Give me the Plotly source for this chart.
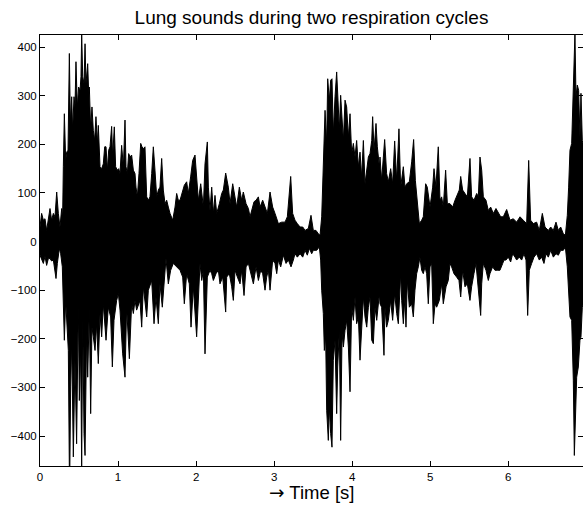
import plotly.graph_objects as go

# Upper envelope of the lung-sound waveform (time in s, amplitude)
t_upper = [0.0, 0.021, 0.043, 0.064, 0.085, 0.107, 0.128, 0.149, 0.171, 0.192, 0.214, 0.235, 0.256, 0.278, 0.290,
           0.299, 0.312, 0.329, 0.342, 0.359, 0.376, 0.389, 0.406, 0.418, 0.436, 0.448, 0.461, 0.478, 0.495, 0.513,
           0.525, 0.534, 0.547, 0.564, 0.577, 0.589, 0.611, 0.624, 0.632, 0.649, 0.666, 0.683, 0.700, 0.717, 0.735,
           0.747, 0.769, 0.790, 0.811, 0.829, 0.846, 0.863, 0.880, 0.897, 0.918, 0.931, 0.952, 0.969, 0.991, 1.008,
           1.025, 1.046, 1.068, 1.089, 1.102, 1.119, 1.136, 1.153, 1.174, 1.196, 1.217, 1.230, 1.247, 1.268, 1.290,
           1.307, 1.324, 1.345, 1.367, 1.388, 1.409, 1.431, 1.452, 1.473, 1.495, 1.516, 1.537, 1.559, 1.580, 1.602,
           1.623, 1.644, 1.666, 1.700, 1.730, 1.751, 1.772, 1.794, 1.815, 1.849, 1.879, 1.900, 1.930, 1.956, 1.986,
           2.007, 2.029, 2.059, 2.093, 2.114, 2.144, 2.157, 2.178, 2.200, 2.221, 2.242, 2.264, 2.298, 2.328, 2.349,
           2.379, 2.413, 2.435, 2.469, 2.499, 2.520, 2.554, 2.584, 2.605, 2.640, 2.670, 2.691, 2.742, 2.768, 2.798,
           2.819, 2.853, 2.883, 2.913, 2.947, 2.981, 3.011, 3.054, 3.097, 3.139, 3.169, 3.212, 3.237, 3.267, 3.297,
           3.332, 3.366, 3.396, 3.438, 3.472, 3.502, 3.536, 3.566, 3.588, 3.609, 3.630, 3.652, 3.673, 3.686, 3.707,
           3.724, 3.741, 3.758, 3.780, 3.801, 3.818, 3.835, 3.852, 3.870, 3.887, 3.908, 3.929, 3.951, 3.972, 3.993,
           4.015, 4.036, 4.057, 4.079, 4.100, 4.121, 4.143, 4.164, 4.186, 4.207, 4.228, 4.250, 4.262, 4.280, 4.305,
           4.322, 4.348, 4.356, 4.377, 4.416, 4.441, 4.463, 4.493, 4.518, 4.544, 4.570, 4.599, 4.621, 4.655, 4.676,
           4.698, 4.732, 4.762, 4.787, 4.809, 4.834, 4.860, 4.890, 4.911, 4.941, 4.962, 4.997, 5.031, 5.048, 5.073,
           5.103, 5.125, 5.146, 5.167, 5.197, 5.219, 5.253, 5.287, 5.317, 5.347, 5.372, 5.390, 5.415, 5.445, 5.475,
           5.509, 5.530, 5.560, 5.595, 5.616, 5.637, 5.659, 5.680, 5.714, 5.744, 5.774, 5.808, 5.842, 5.872, 5.902,
           5.936, 5.979, 6.022, 6.064, 6.107, 6.150, 6.192, 6.235, 6.261, 6.286, 6.320, 6.363, 6.397, 6.436, 6.470,
           6.513, 6.543, 6.577, 6.611, 6.641, 6.671, 6.705, 6.731, 6.756, 6.773, 6.790, 6.812, 6.833, 6.854, 6.867,
           6.884, 6.901, 6.918, 6.931, 6.948, 6.960]
v_upper = [30, 58, 44, 47, 23, 44, 68, 44, 58, 51, 102, 58, 30, 68, 51,
           154, 263, 167, 184, 188, 387, 246, 298, 229, 298, 277, 370, 277, 318, 311,
           339, 430, 339, 325, 407, 325, 366, 304, 318, 232, 277, 229, 208, 257, 202,
           239, 154, 150, 160, 195, 195, 147, 188, 195, 237, 174, 236, 154, 147, 150,
           140, 198, 154, 250, 154, 140, 181, 174, 178, 147, 140, 112, 92, 140, 202,
           195, 191, 195, 92, 85, 92, 140, 195, 147, 92, 106, 112, 171, 106, 78,
           85, 71, 58, 44, 71, 99, 85, 85, 99, 116, 123, 99, 133, 167, 178,
           126, 85, 119, 71, 160, 205, 112, 64, 112, 58, 95, 58, 78, 99, 106,
           141, 112, 78, 119, 92, 71, 112, 85, 102, 78, 68, 51, 82, 85, 92,
           71, 85, 71, 58, 102, 71, 58, 37, 40, 40, 51, 134, 58, 44, 37,
           30, 30, 23, 27, 54, 23, 23, 16, 13, 51, 160, 270, 202, 335, 291,
           332, 335, 222, 298, 349, 291, 229, 301, 236, 208, 291, 277, 215, 263, 181,
           202, 174, 208, 154, 184, 133, 208, 119, 154, 174, 181, 208, 257, 188, 243,
           195, 154, 174, 126, 210, 140, 123, 150, 119, 207, 126, 232, 112, 154, 112,
           119, 123, 164, 210, 126, 85, 37, 44, 51, 119, 112, 71, 112, 150, 112,
           195, 85, 92, 71, 147, 78, 78, 71, 85, 99, 106, 134, 106, 99, 92,
           171, 92, 85, 99, 92, 174, 147, 92, 85, 64, 71, 58, 68, 58, 51,
           51, 66, 44, 47, 40, 51, 44, 37, 167, 44, 37, 40, 23, 58, 30,
           23, 30, 23, 40, 23, 30, 16, 13, 54, 112, 188, 202, 315, 430, 298,
           322, 311, 215, 305, 208, 200]

# Lower envelope of the waveform
t_lower = [0.0, 0.021, 0.043, 0.064, 0.085, 0.107, 0.128, 0.149, 0.171, 0.205, 0.222, 0.248, 0.265, 0.286, 0.299,
           0.312, 0.329, 0.342, 0.363, 0.376, 0.382, 0.393, 0.406, 0.427, 0.448, 0.469, 0.491, 0.504, 0.521, 0.534,
           0.547, 0.564, 0.577, 0.598, 0.611, 0.632, 0.649, 0.666, 0.683, 0.705, 0.726, 0.747, 0.769, 0.790, 0.811,
           0.846, 0.875, 0.905, 0.927, 0.948, 0.982, 1.004, 1.025, 1.059, 1.089, 1.110, 1.145, 1.174, 1.196, 1.217,
           1.238, 1.281, 1.303, 1.324, 1.367, 1.388, 1.431, 1.461, 1.486, 1.516, 1.537, 1.567, 1.602, 1.614, 1.644,
           1.674, 1.708, 1.751, 1.794, 1.828, 1.849, 1.879, 1.913, 1.935, 1.964, 2.007, 2.029, 2.050, 2.072, 2.093,
           2.114, 2.127, 2.144, 2.178, 2.200, 2.221, 2.255, 2.285, 2.306, 2.341, 2.379, 2.392, 2.426, 2.456, 2.477,
           2.499, 2.529, 2.563, 2.584, 2.614, 2.640, 2.670, 2.700, 2.734, 2.768, 2.798, 2.828, 2.853, 2.883, 2.904,
           2.926, 2.947, 2.981, 3.011, 3.033, 3.054, 3.084, 3.118, 3.152, 3.182, 3.216, 3.246, 3.267, 3.297, 3.332,
           3.366, 3.396, 3.425, 3.451, 3.481, 3.502, 3.545, 3.579, 3.596, 3.609, 3.630, 3.643, 3.660, 3.673, 3.694,
           3.707, 3.724, 3.741, 3.758, 3.780, 3.801, 3.814, 3.835, 3.852, 3.870, 3.887, 3.908, 3.929, 3.951, 3.972,
           3.993, 4.015, 4.036, 4.057, 4.079, 4.100, 4.121, 4.143, 4.164, 4.186, 4.207, 4.228, 4.250, 4.271, 4.292,
           4.314, 4.348, 4.356, 4.377, 4.407, 4.420, 4.441, 4.463, 4.493, 4.518, 4.544, 4.570, 4.591, 4.621, 4.634,
           4.655, 4.676, 4.689, 4.706, 4.732, 4.762, 4.783, 4.804, 4.826, 4.847, 4.868, 4.890, 4.911, 4.933, 4.954,
           4.975, 4.997, 5.018, 5.039, 5.061, 5.082, 5.116, 5.146, 5.167, 5.202, 5.231, 5.253, 5.274, 5.304, 5.338,
           5.368, 5.390, 5.415, 5.445, 5.475, 5.509, 5.530, 5.560, 5.586, 5.616, 5.646, 5.659, 5.680, 5.714, 5.744,
           5.765, 5.799, 5.829, 5.859, 5.893, 5.928, 5.945, 5.970, 6.000, 6.030, 6.056, 6.086, 6.107, 6.141, 6.171,
           6.201, 6.227, 6.248, 6.269, 6.299, 6.329, 6.363, 6.397, 6.427, 6.457, 6.483, 6.513, 6.543, 6.577, 6.611,
           6.641, 6.671, 6.705, 6.731, 6.756, 6.773, 6.790, 6.812, 6.833, 6.846, 6.863, 6.876, 6.897, 6.918, 6.931,
           6.948, 6.960]
v_lower = [-28, -35, -45, -30, -49, -35, -35, -40, -38, -76, -45, -14, -25, -52, -141,
           -203, -121, -162, -224, -470, -470, -299, -203, -443, -244, -416, -128, -327, -217, -470,
           -155, -395, -440, -183, -279, -135, -354, -176, -196, -224, -169, -251, -148, -196, -128,
           -203, -135, -155, -258, -162, -121, -107, -141, -231, -279, -135, -241, -128, -148, -121,
           -141, -121, -176, -93, -155, -100, -80, -169, -114, -169, -87, -135, -66, -35, -87,
           -59, -45, -52, -59, -73, -128, -66, -87, -176, -93, -196, -107, -45, -80, -59,
           -231, -162, -73, -59, -66, -80, -66, -59, -87, -73, -145, -73, -66, -93, -121,
           -59, -73, -87, -59, -111, -52, -45, -66, -87, -52, -80, -59, -66, -100, -73,
           -59, -100, -38, -45, -66, -38, -52, -28, -45, -38, -52, -38, -25, -32, -25,
           -32, -18, -28, -14, -25, -18, -18, -11, -38, -100, -148, -224, -196, -347, -409,
           -340, -395, -423, -244, -203, -354, -258, -183, -409, -189, -217, -183, -162, -217, -309,
           -135, -162, -114, -169, -155, -244, -189, -114, -155, -176, -135, -114, -203, -210, -135,
           -162, -107, -128, -135, -234, -135, -176, -162, -121, -162, -107, -148, -169, -66, -121,
           -169, -114, -176, -80, -135, -128, -155, -100, -66, -52, -32, -59, -66, -52, -66,
           -128, -52, -45, -169, -128, -135, -121, -87, -128, -93, -80, -45, -52, -66, -73,
           -80, -114, -59, -93, -87, -121, -93, -66, -45, -93, -152, -87, -45, -59, -80,
           -66, -52, -59, -59, -59, -45, -38, -38, -32, -42, -25, -32, -38, -32, -38,
           -25, -38, -152, -59, -45, -32, -25, -38, -32, -45, -25, -32, -18, -32, -25,
           -28, -18, -18, -11, -52, -107, -155, -162, -285, -440, -347, -279, -258, -203, -196,
           -135, -130]

x_ticks = [0, 1, 2, 3, 4, 5, 6]
y_ticks = [-400, -300, -200, -100, 0, 100, 200, 300, 400]

title_text = "Lung sounds during two respiration cycles"
xlabel_text = '<span style="font-family:DejaVu Sans">\u2192</span> Time [s]'

FONT = "Liberation Sans, Arial, Helvetica, DejaVu Sans, sans-serif"

poly_x = t_upper + t_lower[::-1]
poly_y = v_upper + v_lower[::-1]

fig = go.Figure()
fig.add_trace(go.Scatter(
    x=poly_x, y=poly_y, mode="lines", fill="toself",
    fillcolor="black", line=dict(color="black", width=1),
    hoverinfo="skip", showlegend=False,
))

axis_common = dict(
    showline=True, linecolor="black", linewidth=1, mirror="ticks",
    ticks="inside", ticklen=5, tickwidth=1, tickcolor="black",
    showgrid=False, zeroline=False, automargin=False,
    tickfont=dict(family=FONT, size=11.5, color="black"),
)

fig.update_layout(
    width=583, height=506,
    margin=dict(l=40, r=0, t=35, b=40, autoexpand=False),
    paper_bgcolor="white", plot_bgcolor="white",
    title=dict(text=title_text, x=0.5343, xanchor="center", y=0.965, yanchor="middle",
               yref="container", font=dict(family=FONT, size=19, color="black")),
    xaxis=dict(range=[0, 6.957], tickvals=x_ticks, **axis_common),
    yaxis=dict(range=[-461.7, 425], tickvals=y_ticks, **axis_common),
    annotations=[dict(text=xlabel_text, xref="paper", yref="paper", x=0.5, y=-0.062,
                      xanchor="center", yanchor="middle", showarrow=False,
                      font=dict(family=FONT, size=18.5, color="black"))],
    showlegend=False,
)

fig.write_html(
    "out.html",
    config={"displayModeBar": False, "staticPlot": True},
    post_script="document.body.style.margin='0';document.body.style.overflow='hidden';",
)
